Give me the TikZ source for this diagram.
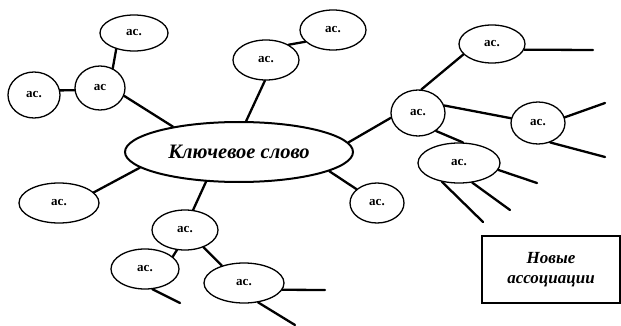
\documentclass[tikz,border=0pt]{standalone}
\usepackage{fontspec}
\setmainfont{Liberation Serif}
\usetikzlibrary{shapes.geometric}
\tikzset{
  ac/.style={draw, ellipse, line width=1.3pt, inner sep=0pt, font=\bfseries\fontsize{13}{13}\selectfont},
  conn/.style={line width=2.3pt, line cap=round},
  keynode/.style={draw, ellipse, line width=2pt, inner sep=0pt, minimum width=228pt, minimum height=60pt, font=\bfseries\itshape\fontsize{20.5}{20.5}\selectfont},
  boxnode/.style={draw, line width=1.3pt, inner sep=0pt, minimum width=138pt, minimum height=67pt, align=center, font=\bfseries\itshape\fontsize{17}{20}\selectfont}
}
\begin{document}
\begin{tikzpicture}[x=1pt,y=-1pt]
\useasboundingbox (0,0) rectangle (621,326);
% central
\node[keynode] (K) at (239,152) {Ключевое слово};
% top-left cluster
\node[ac, minimum width=68pt, minimum height=36pt] (A1) at (134,33) {ас.};
\node[ac, minimum width=50pt, minimum height=44pt] (A2) at (100,88) {ас};
\node[ac, minimum width=52pt, minimum height=46pt] (A3) at (34,95) {ас.};
\node[ac, minimum width=66pt, minimum height=40pt] (A4) at (266,60) {ас.};
\node[ac, minimum width=66pt, minimum height=40pt] (A5) at (333,30) {ас.};
% right cluster
\node[ac, minimum width=54pt, minimum height=46pt] (R0) at (418,113) {ас.};
\node[ac, minimum width=66pt, minimum height=38pt] (R1) at (492,44) {ас.};
\node[ac, minimum width=54pt, minimum height=42pt] (R2) at (538,123) {ас.};
\node[ac, minimum width=82pt, minimum height=40pt] (R3) at (459,163) {ас.};
\node[ac, minimum width=54pt, minimum height=40pt] (B1) at (377,203) {ас.};
% left / bottom
\node[ac, minimum width=80pt, minimum height=40pt] (L1) at (59,203) {ас.};
\node[ac, minimum width=66pt, minimum height=40pt] (D0) at (185,230) {ас.};
\node[ac, minimum width=68pt, minimum height=40pt] (D1) at (145,269) {ас.};
\node[ac, minimum width=80pt, minimum height=40pt] (D2) at (244,283) {ас.};
% box
\node[boxnode] (NB) at (551,269.5) {Новые\\ассоциации};
% free ends
\coordinate (r1e) at (593,50);
\coordinate (r2a) at (605,103);
\coordinate (r2b) at (605,157);
\coordinate (r3a) at (537,183);
\coordinate (r3b) at (510,210);
\coordinate (r3c) at (483,222);
\coordinate (d1e) at (180,303);
\coordinate (d2a) at (325,290);
\coordinate (d2b) at (295,325);
% connectors
\draw[conn] (A1.222) -- (A2.57);
\draw[conn] (A3.10) -- (A2.185);
\draw[conn] (A2.342) -- (K.159);
\draw[conn] (A4.267) -- (K.77);
\draw[conn] (A4.34) -- (A5.203);
\draw[conn] (R0.190) -- (K.5);
\draw[conn] (R0.82) -- (R1.200);
\draw[conn] (R1.350) -- (r1e);
\draw[conn] (R0.16) -- (R2.170);
\draw[conn] (R2.12) -- (r2a);
\draw[conn] (R2.302) -- (r2b);
\draw[conn] (R0.315) -- (R3.79);
\draw[conn] (R3.350) -- (r3a);
\draw[conn] (R3.304) -- (r3b);
\draw[conn] (R3.228) -- (r3c);
\draw[conn] (K.348) -- (B1.146);
\draw[conn] (K.189) -- (L1.17);
\draw[conn] (K.222) -- (D0.68);
\draw[conn] (D0.248) -- (D1.24);
\draw[conn] (D1.290) -- (d1e);
\draw[conn] (D0.317) -- (D2.142);
\draw[conn] (D2.350) -- (d2a);
\draw[conn] (D2.306) -- (d2b);
\end{tikzpicture}
\end{document}
